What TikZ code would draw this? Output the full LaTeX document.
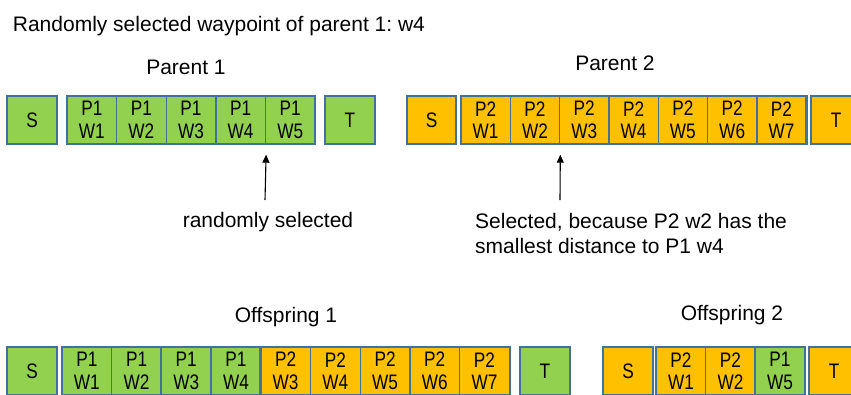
\documentclass[tikz,border=0pt]{standalone}
\usepackage{fontspec}
\setmainfont{Liberation Sans}
\newfontfamily\cellfont{Liberation Sans}[FakeStretch=0.82]
\usetikzlibrary{arrows.meta}

\definecolor{wpgreen}{HTML}{92D050}
\definecolor{wporange}{HTML}{FFC000}
\definecolor{wpedge}{HTML}{41719C}

\begin{document}
\frenchspacing
\begin{tikzpicture}[x=1pt,y=-1pt,
  cellbox/.style={draw=wpedge, line width=1.4pt, minimum height=48pt,
    inner sep=0pt, align=center, text=black,
    font=\cellfont\fontsize{21}{22.5}\selectfont},
  green/.style={cellbox, fill=wpgreen},
  orange/.style={cellbox, fill=wporange},
  groupbox/.style={draw=wpedge, line width=1.4pt},
  label/.style={font=\fontsize{21}{25}\selectfont, inner sep=0pt, text=black},
  pointer/.style={draw=black, line width=1.1pt, -{Triangle[length=8pt,width=7pt]}}
]
\useasboundingbox (0,0) rectangle (851,394);

% heading and row titles
\node[label, anchor=base west] (head) at (12.7,31.7) {Randomly selected waypoint of parent 1: w4};
\node[label, anchor=base] (par1) at (186,74) {Parent 1};
\node[label, anchor=base] (par2) at (615,70) {Parent 2};
\node[label, anchor=base] (off1) at (286,322) {Offspring 1};
\node[label, anchor=base] (off2) at (732,320) {Offspring 2};

% parent 1
\node[green, minimum width=50pt] (p1s) at (32,120) {S};
\foreach \i in {1,...,5} {
  \node[green, minimum width=49.6pt] (p1w\i) at ({67+49.6*(\i-0.5)},120) {P1\\W\i};
}
\draw[groupbox] (p1w1.north west) rectangle (p1w5.south east);
\node[green, minimum width=50pt] (p1t) at (350,120) {T};

% parent 2
\node[orange, minimum width=49pt] (p2s) at (431.5,120) {S};
\foreach \i in {1,...,7} {
  \node[orange, minimum width=49.3pt] (p2w\i) at ({461+49.3*(\i-0.5)},120) {P2\\W\i};
}
\draw[groupbox] (p2w1.north west) rectangle (p2w7.south east);
\node[orange, minimum width=50pt] (p2t) at (836,120) {T};

% offspring 1
\node[green, minimum width=50pt] (o1s) at (32,371) {S};
\foreach \lab [count=\i] in {P1\\W1,P1\\W2,P1\\W3,P1\\W4} {
  \node[green, minimum width=49.7pt] (o1c\i) at ({62+49.7*(\i-0.5)},371) {\lab};
}
\foreach \lab [count=\j, evaluate=\j as \i using int(\j+4)] in {P2\\W3,P2\\W4,P2\\W5,P2\\W6,P2\\W7} {
  \node[orange, minimum width=49.7pt] (o1c\i) at ({62+49.7*(\i-0.5)},371) {\lab};
}
\draw[groupbox] (o1c1.north west) rectangle (o1c9.south east);
\draw[groupbox] (o1c3.north west) rectangle (o1c4.south east);
\draw[groupbox] (o1c5.north west) -- (o1c5.south west);
\node[green, minimum width=50pt] (o1t) at (545,371) {T};

% offspring 2
\node[orange, minimum width=50pt] (o2s) at (628,371) {S};
\node[orange, minimum width=49.7pt] (o2c1) at (681,371) {P2\\W1};
\node[orange, minimum width=49.7pt] (o2c2) at (730.5,371) {P2\\W2};
\node[green, minimum width=49.7pt] (o2c3) at (780,371) {P1\\W5};
\draw[groupbox] (o2c1.north west) rectangle (o2c3.south east);
\node[orange, minimum width=50pt] (o2t) at (834,371) {T};

% annotations with pointers
\node[label, anchor=base] (rand) at (268,227.3) {randomly selected};
\node[label, anchor=base west] (sel1) at (475,228) {Selected, because P2 w2 has the};
\node[label, anchor=base west] (sel2) at (475,253) {smallest distance to P1 w4};
\coordinate (a1) at (265,200);
\coordinate (a2) at (560,200);
\draw[pointer] (a1) -- ([yshift=-10pt]p1w4.south east);
\draw[pointer] (a2) -- ([yshift=-10pt]p2w2.south east);
\end{tikzpicture}
\end{document}
